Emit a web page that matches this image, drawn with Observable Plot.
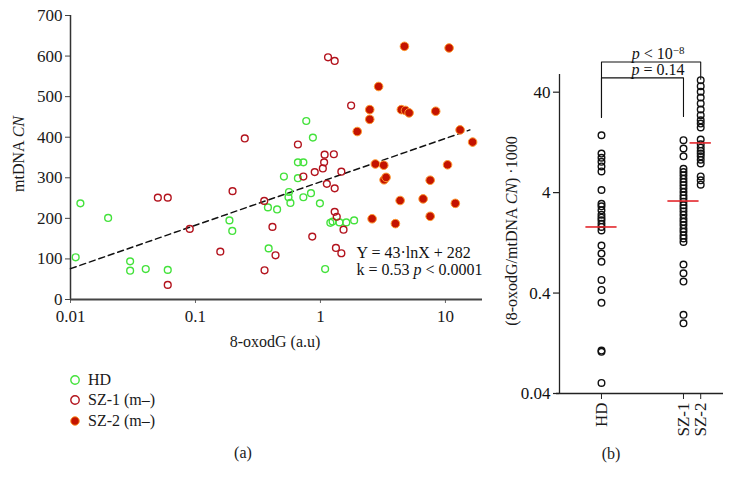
<!DOCTYPE html>
<html><head><meta charset="utf-8">
<script src="https://cdn.jsdelivr.net/npm/d3@7"></script>
<script src="https://cdn.jsdelivr.net/npm/@observablehq/plot@0.6"></script>
<style>
body{margin:0;background:#fff;font-family:"Liberation Serif","Times New Roman",serif;color:#1a1a1a;}
#wrap{position:relative;width:734px;height:487px;overflow:hidden;background:#fff;}
.abs{position:absolute;white-space:nowrap;font-size:16px;line-height:1;}
.rot{transform:translate(-50%,-50%) rotate(-90deg);}
.ctr{transform:translate(-50%,-50%);}
.leg{position:absolute;left:69px;display:flex;align-items:center;font-size:16px;height:18px;}
.leg svg{margin-right:7px;}
</style></head><body><div id="wrap"></div>
<script>
// ---------- Panel (a): 8-oxodG (a.u) vs mtDNA CN ----------
const hdX  = [0.012,0.02,0.011,0.03,0.03,0.04,0.06,0.187,0.197,0.77,0.87,0.66,0.73,0.51,0.66,0.56,0.555,0.575,0.73,0.84,0.99,0.38,0.45,1.20,1.25,1.42,1.61,1.86,0.385,1.09];
const hdY  = [237,201,104,94,71,75,73,195,169,440,399,338,338,303,299,265,252,238,252,262,237,227,222,189,192,190,190,195,126,75];
const sz1X = [0.05,0.06,0.06,0.09,0.158,0.198,1.15,1.30,1.76,0.248,0.66,1.08,1.28,1.07,1.045,0.90,0.73,1.47,1.125,1.30,0.355,0.413,1.30,1.35,1.53,0.86,0.437,1.33,1.47,0.357];
const sz1Y = [251,251,36,174,118,267,597,588,478,397,382,357,358,338,323,314,303,315,285,274,243,179,216,204,172,155,109,127,114,72];
const sz2X = [4.70,10.7,2.92,2.48,2.48,1.97,4.44,4.79,5.12,8.36,13.1,16.5,2.75,3.21,3.23,3.35,10.4,7.55,4.34,6.63,12.0,2.59,3.98,7.55];
const sz2Y = [624,620,525,468,444,414,468,466,460,464,418,388,334,331,295,301,332,294,244,248,237,199,187,205];
const fitX = [0.01, 15.7];
const fitY = [76, 418];
const xTicksA = [0.01, 0.1, 1, 10];
const yTicksA = [0, 100, 200, 300, 400, 500, 600, 700];
const annotA = ["Y = 43·lnX + 282", "k = 0.53 p < 0.0001"];
const annotAX = [1.94, 1.94];
const annotAY = [116, 74];

// ---------- Panel (b): (8-oxodG/mtDNA CN)·1000 ----------
const groups = ["HD", "SZ-1", "SZ-2"];
const ratioHD  = [14.9,9.8,8.9,8.1,7.3,6.5,4.25,3.1,2.92,2.67,2.41,2.25,2.12,1.96,1.82,1.68,1.19,0.99,0.82,0.54,0.43,0.32,0.107,0.104,0.051];
const ratioSZ1 = [13.3,11.0,9.2,6.9,6.4,5.95,5.5,5.1,4.75,4.4,4.05,3.75,3.5,3.25,3.0,2.8,2.6,2.4,2.2,2.05,1.9,1.75,1.63,1.5,1.4,1.29,0.77,0.63,0.52,0.243,0.20];
const ratioSZ2 = [52.7,45.9,40.3,35.4,30.9,26.9,23.6,21.0,19.5,17.8,13.5,12.1,11.2,10.4,9.8,9.2,8.5,7.8,5.8,5.3,4.8];
const medians  = [1.82, 3.3, 12.5];
const yTicksB  = [0.04, 0.4, 4, 40];
const yTickLabelsB = ["0.04", "0.4", "4", "40"];
const bracketLabels = ["p < 10-8", "p = 0.14"];
const bracketTo     = ["SZ-2", "SZ-1"];
const bracketTop    = [80, 55.5];
const bracketLegLo  = [22.4, 22.4];
const bracketEndLo  = [53.9, 22.9];
const bracketTextY  = [97, 67];

const SERIF = '"Liberation Serif","Times New Roman",serif';
const wrap = document.getElementById("wrap");

// ---- Panel (a) ----
const hd  = hdX.map((x, i) => ({x, y: hdY[i]}));
const sz1 = sz1X.map((x, i) => ({x, y: sz1Y[i]}));
const sz2 = sz2X.map((x, i) => ({x, y: sz2Y[i]}));
const fit = fitX.map((x, i) => ({x, y: fitY[i]}));
const ann = annotA.map((t, i) => ({t, x: annotAX[i], y: annotAY[i]}));

const plotA = Plot.plot({
  width: 500, height: 330,
  marginLeft: 70, marginRight: 18, marginTop: 15, marginBottom: 31,
  style: {fontFamily: SERIF, fontSize: "17px", color: "#1a1a1a", background: "transparent", overflow: "visible"},
  x: {type: "log", domain: [0.01, 19.8]},
  y: {domain: [0, 700]},
  marks: [
    Plot.axisX({ticks: xTicksA, tickFormat: d => String(d), tickSize: 4, tickPadding: 6, label: null, fontSize: 17, stroke: "#666"}),
    Plot.axisY({ticks: yTicksA, tickSize: 5, tickPadding: 3, label: null, fontSize: 17, stroke: "#444"}),
    Plot.ruleX([0.01], {y1: 0, y2: 700, stroke: "#333", strokeWidth: 1.5}),
    Plot.ruleY([0], {x1: 0.01, x2: 19.8, stroke: "#444", strokeWidth: 2}),
    Plot.line(fit, {x: "x", y: "y", stroke: "#111", strokeWidth: 1.5, strokeDasharray: "6,4"}),
    Plot.dot(hd,  {x: "x", y: "y", r: 3.4, fill: "none", stroke: "#44e23c", strokeWidth: 1.4}),
    Plot.dot(sz1, {x: "x", y: "y", r: 3.4, fill: "none", stroke: "#b3131d", strokeWidth: 1.4}),
    Plot.dot(sz2, {x: "x", y: "y", r: 4.3, fill: "#c41300", stroke: "#ff9a30", strokeWidth: 1}),
    Plot.text(ann, {x: "x", y: "y", text: "t", textAnchor: "start", fontSize: 16, fill: "#111"})
  ]
});
plotA.style.position = "absolute"; plotA.style.left = "0px"; plotA.style.top = "0px";
wrap.appendChild(plotA);

// ---- Panel (b) ----
const pos = {"HD": 1, "SZ-1": 2, "SZ-2": 2.21};
const halfW = {"HD": 0.19, "SZ-1": 0.19, "SZ-2": 0.13};
const xMinB = 0.488, xMaxB = 2.488;
const pxPerUnitB = 82;
const ptsB = [
  ...ratioHD.map(v => ({g: "HD", v})),
  ...ratioSZ1.map(v => ({g: "SZ-1", v})),
  ...ratioSZ2.map(v => ({g: "SZ-2", v}))
];
const medData = groups.map((g, i) => ({g, m: medians[i]}));
const yTickData = yTicksB.map((v, i) => ({v, label: yTickLabelsB[i]}));
const brLines = [];
bracketLabels.forEach((lab, i) => {
  const path = [
    {x: pos["HD"], y: bracketLegLo[i]},
    {x: pos["HD"], y: bracketTop[i]},
    {x: pos[bracketTo[i]], y: bracketTop[i]},
    {x: pos[bracketTo[i]], y: bracketEndLo[i]}
  ];
  path.forEach(p => brLines.push({...p, k: i}));
});
const brText = bracketLabels.map((t, i) => ({t, x: 1.69, y: bracketTextY[i]}));

const plotB = Plot.plot({
  width: 234, height: 430,
  marginLeft: 59, marginRight: 11, marginTop: 74, marginBottom: 37,
  style: {fontFamily: SERIF, fontSize: "17px", color: "#1a1a1a", background: "transparent", overflow: "visible"},
  x: {domain: [xMinB, xMaxB]},
  y: {type: "log", domain: [0.04, 60], axis: null},
  marks: [
    Plot.ruleY(yTickData, {y: "v", x1: xMinB - 6 / pxPerUnitB, x2: xMinB, stroke: "#222", strokeWidth: 1.2}),
    Plot.text(yTickData, {y: "v", x: xMinB, text: "label", textAnchor: "end", dx: -9, fontSize: 17, fill: "#111"}),
    Plot.axisX({ticks: groups.map(g => pos[g]), tickFormat: d => groups.find(g => pos[g] === d), tickRotate: -90, tickSize: 6, tickPadding: 3, label: null, fontSize: 17, stroke: "#222"}),
    Plot.ruleX([xMinB], {y1: 0.04, y2: 60, stroke: "#222", strokeWidth: 1.3}),
    Plot.ruleY([0.04], {x1: xMinB - 3 / pxPerUnitB, x2: xMaxB, stroke: "#222", strokeWidth: 1.3}),
    Plot.dot(ptsB, {x: d => pos[d.g], y: "v", r: 3.3, fill: "none", stroke: "#111", strokeWidth: 1.4}),
    Plot.ruleY(medData, {y: "m", x1: d => pos[d.g] - halfW[d.g], x2: d => pos[d.g] + halfW[d.g], stroke: "#e3262b", strokeWidth: 1.6}),
    Plot.line(brLines, {x: "x", y: "y", z: "k", stroke: "#111", strokeWidth: 1.1}),
    Plot.text(brText, {x: "x", y: "y", text: "t", fontSize: 16, fill: "#111"})
  ]
});
plotB.style.position = "absolute"; plotB.style.left = "500px"; plotB.style.top = "0px";
wrap.appendChild(plotB);

// italic "p" and superscript in annotation texts
function richify(svg) {
  d3.select(svg).selectAll("text").each(function() {
    const s = this.textContent;
    const node = d3.select(this);
    if (s === "k = 0.53 p < 0.0001") {
      node.text(null);
      node.append("tspan").text("k = 0.53 ");
      node.append("tspan").attr("font-style", "italic").text("p");
      node.append("tspan").text(" < 0.0001");
    } else if (s === "p < 10-8") {
      node.text(null);
      node.append("tspan").attr("font-style", "italic").text("p");
      node.append("tspan").text(" < 10");
      node.append("tspan").attr("dy", "-0.45em").attr("font-size", "11px").text("−8");
    } else if (s === "p = 0.14") {
      node.text(null);
      node.append("tspan").attr("font-style", "italic").text("p");
      node.append("tspan").text(" = 0.14");
    }
  });
}
richify(plotA); richify(plotB);

// ---- HTML text: axis labels, legend, panel captions ----
function addDiv(html, cls, left, top) {
  const d = document.createElement("div");
  d.className = "abs " + cls;
  d.style.left = left + "px"; d.style.top = top + "px";
  d.innerHTML = html;
  wrap.appendChild(d);
}
addDiv("mtDNA <i>CN</i>", "rot", 19, 154);
addDiv("8-oxodG (a.u)", "ctr", 275, 342);
addDiv("(8-oxodG/mtDNA <i>CN</i>) ·1000", "rot", 512, 231);
addDiv("(a)", "ctr", 243, 453);
addDiv("(b)", "ctr", 611, 454);

const legendItems = [
  {label: "HD", fill: "none", stroke: "#44e23c", r: 4.2, sw: 1.4},
  {label: "SZ-1 (m–)", fill: "none", stroke: "#b3131d", r: 4.2, sw: 1.4},
  {label: "SZ-2 (m–)", fill: "#c41300", stroke: "#ff9a30", r: 4.3, sw: 1}
];
const legendTop = [371, 391, 412];
legendItems.forEach((it, i) => {
  const d = document.createElement("div");
  d.className = "leg";
  d.style.top = legendTop[i] + "px";
  d.innerHTML = `<svg width="12" height="12"><circle cx="6" cy="6" r="${it.r}" fill="${it.fill}" stroke="${it.stroke}" stroke-width="${it.sw}"/></svg><span>${it.label}</span>`;
  wrap.appendChild(d);
});
</script>
</body></html>
